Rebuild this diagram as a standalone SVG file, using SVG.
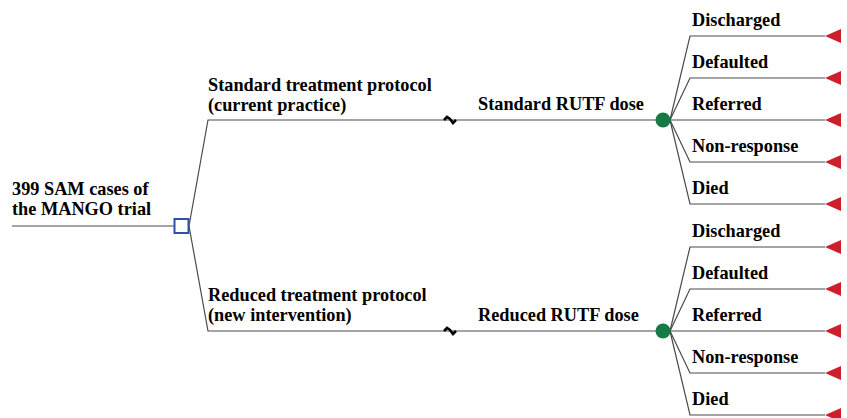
<svg xmlns="http://www.w3.org/2000/svg" width="847" height="418" viewBox="0 0 847 418">
<style>
text{font-family:"Liberation Serif","Times New Roman",serif;font-weight:bold;font-size:18.3px;fill:#000}
.ln{stroke:#4a4a4a;stroke-width:1.2;fill:none}
.brk{stroke:#000;stroke-width:2.6;fill:none;stroke-linejoin:miter;stroke-linecap:butt}
.term{fill:#CC1F2A}
.chance{fill:#177A45}
.dec{fill:#fff;stroke:#2F52A6;stroke-width:2}
</style>
<defs>
<polygon id="tri" points="0,0 16,-7 16,7"/>
</defs>
<rect width="847" height="418" fill="#fff"/>
<g id="connectors">
<line class="ln" x1="12" y1="226" x2="174" y2="226"/>
<polyline class="ln" points="189,226 208,120 656,120"/>
<polyline class="ln" points="189,226 208,331 656,331"/>
<path class="brk" d="M444,120 L447,117 L450,119 L453,123 L456,120"/>
<path class="brk" d="M444,331 L447,328 L450,330 L453,334 L456,331"/>
<polyline class="ln" points="670,120 690,36 825,36"/>
<polyline class="ln" points="670,120 690,78 825,78"/>
<polyline class="ln" points="670,120 825,120"/>
<polyline class="ln" points="670,120 690,162 825,162"/>
<polyline class="ln" points="670,120 690,204 825,204"/>
<polyline class="ln" points="670,331 690,247 825,247"/>
<polyline class="ln" points="670,331 690,289 825,289"/>
<polyline class="ln" points="670,331 825,331"/>
<polyline class="ln" points="670,331 690,373 825,373"/>
<polyline class="ln" points="670,331 690,415 825,415"/>
</g>
<g id="root">
<text x="12" y="195">399 SAM cases of</text>
<text x="12" y="215">the MANGO trial</text>
</g>
<g id="decision">
<rect class="dec" x="174.5" y="219" width="14" height="14"/>
</g>
<g id="standard-protocol">
<text x="208" y="91">Standard treatment protocol</text>
<text x="208" y="111">(current practice)</text>
<text x="478" y="110">Standard RUTF dose</text>
</g>
<g id="reduced-protocol">
<text x="208" y="301">Reduced treatment protocol</text>
<text x="208" y="321">(new intervention)</text>
<text x="478" y="321">Reduced RUTF dose</text>
</g>
<g id="chance-standard">
<circle class="chance" cx="663" cy="120" r="7.5"/>
</g>
<g id="chance-reduced">
<circle class="chance" cx="663" cy="331" r="7.5"/>
</g>
<g id="outcomes-standard">
<text x="692" y="26">Discharged</text>
<text x="692" y="68">Defaulted</text>
<text x="692" y="110">Referred</text>
<text x="692" y="152">Non-response</text>
<text x="692" y="194">Died</text>
<use href="#tri" class="term" x="825" y="36"/>
<use href="#tri" class="term" x="825" y="78"/>
<use href="#tri" class="term" x="825" y="120"/>
<use href="#tri" class="term" x="825" y="162"/>
<use href="#tri" class="term" x="825" y="204"/>
</g>
<g id="outcomes-reduced">
<text x="692" y="237">Discharged</text>
<text x="692" y="279">Defaulted</text>
<text x="692" y="321">Referred</text>
<text x="692" y="363">Non-response</text>
<text x="692" y="405">Died</text>
<use href="#tri" class="term" x="825" y="247"/>
<use href="#tri" class="term" x="825" y="289"/>
<use href="#tri" class="term" x="825" y="331"/>
<use href="#tri" class="term" x="825" y="373"/>
<use href="#tri" class="term" x="825" y="415"/>
</g>
</svg>
